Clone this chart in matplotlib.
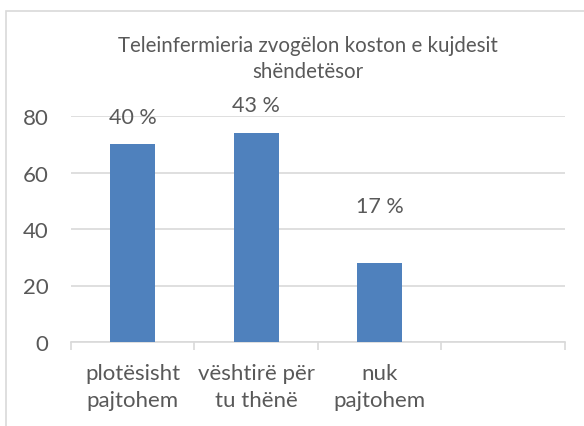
import matplotlib
matplotlib.use("Agg")
import matplotlib.pyplot as plt
from matplotlib.patches import Rectangle

title = "Teleinfermieria zvogëlon koston e kujdesit\nshëndetësor"
categories = ["plotësisht\npajtohem", "vështirë për\ntu thënë", "nuk\npajtohem", ""]
values = [70, 74, 28]
labels = ["40 %", "43 %", "17 %"]
yticks = [0, 20, 40, 60, 80]

text_col = "#595959"
grid_col = "#D9D9D9"
bar_col = "#4F81BD"

plt.rcParams["font.family"] = ["Lato", "DejaVu Sans"]

fig = plt.figure(figsize=(5.84, 4.27), dpi=100)
ax = fig.add_axes([70.7 / 584, 84 / 427, 494.3 / 584, 226 / 427])

xs = list(range(len(values)))
ax.bar(xs, values, width=0.365, color=bar_col, zorder=3)

# labels sit above bars (third one moved higher, as in the original)
offsets = [19.5, 19.8, 41]
for x, v, lab, off in zip(xs, values, labels, offsets):
    ax.annotate(lab, (x, v), xytext=(0, off), textcoords="offset points",
                ha="center", va="center", fontsize=15.5, color=text_col,
                annotation_clip=False, zorder=4)

ax.set_xlim(-0.5, len(categories) - 0.5)
ax.set_ylim(0, 80)
ax.set_yticks(yticks)
ax.set_xticks(range(len(categories)))
ax.set_xticklabels(categories, fontsize=16, color=text_col)
for t in ax.get_xticklabels():
    t.set_linespacing(1.45)
ax.set_xticks([i - 0.5 for i in range(len(categories) + 1)], minor=True)
ax.tick_params(axis="x", which="major", length=0, pad=15)
ax.tick_params(axis="x", which="minor", length=6, color=grid_col, width=1.2)
ax.tick_params(axis="y", length=0, labelsize=16, labelcolor=text_col, pad=16)

ax.grid(axis="y", color=grid_col, linewidth=1.2, zorder=0)
for s in ["left", "right", "top"]:
    ax.spines[s].set_visible(False)
ax.spines["bottom"].set_color(grid_col)
ax.spines["bottom"].set_linewidth(1.2)

fig.text(307.5 / 584, 1 - 59 / 427, title, ha="center", va="center",
         fontsize=14.8, color=text_col, linespacing=1.33)

fig.patches.append(Rectangle((6 / 584, -0.1), 1.2, 1.1 - 12 / 427,
                             transform=fig.transFigure, fill=False,
                             edgecolor=grid_col, linewidth=1.2))

fig.savefig("out.png", dpi=100)
